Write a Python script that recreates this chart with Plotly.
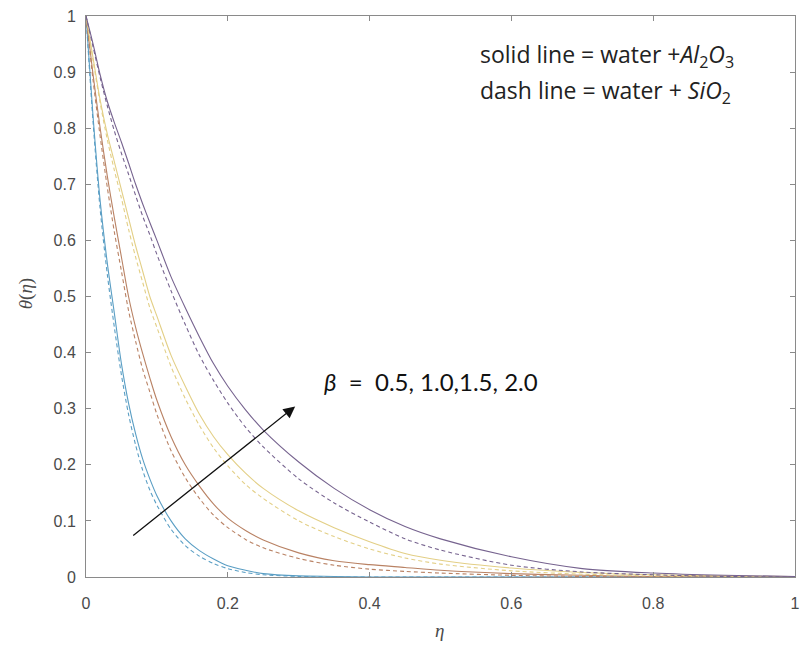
import plotly.graph_objects as go

eta = [0, 0.01, 0.02, 0.03, 0.04, 0.05, 0.06, 0.07, 0.08, 0.09, 0.1, 0.12, 0.14, 0.16, 0.18, 0.2,
       0.225, 0.25, 0.3, 0.35, 0.4, 0.45, 0.5, 0.6, 0.7, 0.8, 0.9, 1.0]

# solid = water + Al2O3, dashed = water + SiO2 ; beta = 0.5, 1.0, 1.5, 2.0
al2o3_b05 = [1.0, 0.82, 0.67, 0.56, 0.47, 0.38, 0.31, 0.255, 0.21, 0.175, 0.145, 0.10, 0.068, 0.047, 0.032, 0.02,
             0.012, 0.006, 0.002, 0.001, 0.0, 0.0, 0.0, 0.0, 0.0, 0.0, 0.0, 0.0]
sio2_b05  = [1.0, 0.81, 0.655, 0.54, 0.445, 0.36, 0.29, 0.235, 0.19, 0.155, 0.128, 0.085, 0.056, 0.037, 0.024, 0.015,
             0.008, 0.004, 0.001, 0.0, 0.0, 0.0, 0.0, 0.0, 0.0, 0.0, 0.0, 0.0]
al2o3_b10 = [1.0, 0.895, 0.80, 0.715, 0.64, 0.57, 0.50, 0.445, 0.398, 0.355, 0.315, 0.25, 0.20, 0.162, 0.13, 0.105,
             0.083, 0.066, 0.043, 0.029, 0.022, 0.017, 0.012, 0.006, 0.003, 0.001, 0.0, 0.0]
sio2_b10  = [1.0, 0.885, 0.785, 0.695, 0.615, 0.545, 0.475, 0.42, 0.37, 0.33, 0.29, 0.225, 0.177, 0.14, 0.11, 0.088,
             0.067, 0.052, 0.033, 0.021, 0.014, 0.01, 0.007, 0.003, 0.001, 0.0, 0.0, 0.0]
al2o3_b15 = [1.0, 0.925, 0.85, 0.79, 0.74, 0.69, 0.64, 0.59, 0.545, 0.50, 0.465, 0.395, 0.34, 0.29, 0.25, 0.218,
             0.185, 0.158, 0.118, 0.088, 0.063, 0.042, 0.03, 0.016, 0.008, 0.004, 0.002, 0.001]
sio2_b15  = [1.0, 0.92, 0.845, 0.78, 0.725, 0.675, 0.62, 0.57, 0.525, 0.48, 0.445, 0.375, 0.318, 0.27, 0.23, 0.198,
             0.165, 0.14, 0.10, 0.072, 0.05, 0.034, 0.023, 0.011, 0.005, 0.002, 0.001, 0.0]
al2o3_b20 = [1.0, 0.95, 0.895, 0.848, 0.81, 0.775, 0.738, 0.70, 0.665, 0.632, 0.60, 0.535, 0.48, 0.428, 0.38, 0.34,
             0.298, 0.262, 0.205, 0.158, 0.12, 0.09, 0.068, 0.036, 0.015, 0.007, 0.003, 0.001]
sio2_b20  = [1.0, 0.945, 0.89, 0.84, 0.795, 0.755, 0.718, 0.68, 0.643, 0.61, 0.575, 0.51, 0.45, 0.395, 0.35, 0.31,
             0.267, 0.232, 0.175, 0.132, 0.098, 0.068, 0.048, 0.021, 0.009, 0.004, 0.001, 0.0]

colors = ["#5a9ec4", "#b98264", "#e3cf86", "#76638f"]
solid = [al2o3_b05, al2o3_b10, al2o3_b15, al2o3_b20]
dashed = [sio2_b05, sio2_b10, sio2_b15, sio2_b20]

x_ticks = [0, 0.2, 0.4, 0.6, 0.8, 1]
x_ticktext = ["0", "0.2", "0.4", "0.6", "0.8", "1"]
y_ticks = [0, 0.1, 0.2, 0.3, 0.4, 0.5, 0.6, 0.7, 0.8, 0.9, 1]
y_ticktext = ["0", "0.1", "0.2", "0.3", "0.4", "0.5", "0.6", "0.7", "0.8", "0.9", "1"]

fig = go.Figure()
for c, ys, yd in zip(colors, solid, dashed):
    fig.add_trace(go.Scatter(x=eta, y=ys, mode="lines", line=dict(color=c, width=1.1, shape="spline", smoothing=0.8), showlegend=False))
    fig.add_trace(go.Scatter(x=eta, y=yd, mode="lines", line=dict(color=c, width=1.1, dash="4px,3px", shape="spline", smoothing=0.8), showlegend=False))

axis_common = dict(showgrid=False, zeroline=False, showline=True, linecolor="#8a8a8a", linewidth=1,
                   mirror="ticks", ticks="inside", ticklen=5, tickcolor="#8a8a8a", automargin=False,
                   tickfont=dict(family="Liberation Sans, Arial", size=16, color="#4a4a4a"))

fig.update_xaxes(range=[0, 1], tickvals=x_ticks, ticktext=x_ticktext, ticklabelstandoff=12, **axis_common)
fig.update_yaxes(range=[0, 1], tickvals=y_ticks, ticktext=y_ticktext, ticklabelstandoff=6, **axis_common)

title_font = dict(family="Liberation Serif, Times New Roman", size=19, color="#4a4a4a")
fig.add_annotation(x=0.499, y=-0.0945, xref="paper", yref="paper", showarrow=False,
                   text="<i>η</i>", font=title_font, xanchor="center", yanchor="middle")
fig.add_annotation(x=-0.0846, y=0.504, xref="paper", yref="paper", showarrow=False, textangle=-90,
                   text="<i>θ</i>(<i>η</i>)", font=title_font, xanchor="center", yanchor="middle")

fig.add_annotation(x=0.295, y=0.304, ax=0.0645, ay=0.072, xref="x", yref="y", axref="x", ayref="y",
                   showarrow=True, arrowhead=2, arrowsize=1.8, arrowwidth=1.3, arrowcolor="#111111", text="")
fig.add_annotation(x=0.333, y=0.348, xref="x", yref="y", xanchor="left", yanchor="middle", showarrow=False,
                   text="<i>β</i>\u00a0\u00a0=\u00a0\u00a00.5,\u00a01.0,1.5,\u00a02.0",
                   font=dict(family="Lato, Carlito, Calibri", size=24, color="#111111"))
fig.add_annotation(x=0.553, y=0.929, xref="x", yref="y", xanchor="left", yanchor="middle", showarrow=False,
                   text="solid line = water +<i>Al</i><sub>2</sub><i>O</i><sub>3</sub>",
                   font=dict(family="Open Sans", size=23, color="#222222"))
fig.add_annotation(x=0.553, y=0.866, xref="x", yref="y", xanchor="left", yanchor="middle", showarrow=False,
                   text="dash line = water + <i>SiO</i><sub>2</sub>",
                   font=dict(family="Open Sans", size=23, color="#222222"))

fig.update_layout(width=802, height=648, margin=dict(l=86, r=7, t=16, b=71),
                  plot_bgcolor="white", paper_bgcolor="white")

fig.write_html("out.html", config={"displayModeBar": False}, post_script="document.body.style.margin='0';")
